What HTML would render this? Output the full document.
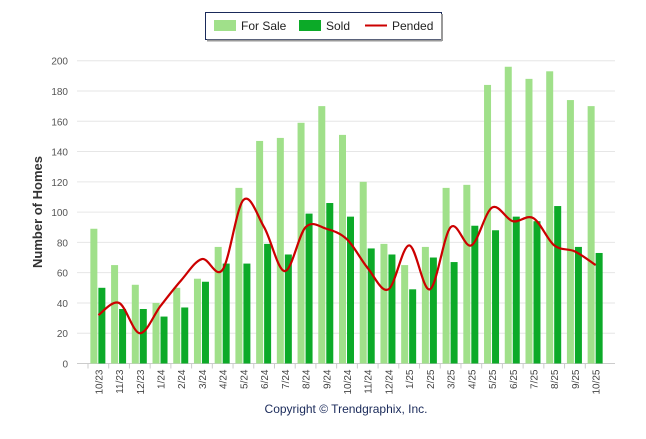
<!DOCTYPE html>
<html><head><meta charset="utf-8"><style>
body{margin:0;background:#fff;font-family:"Liberation Sans",sans-serif}
svg text{font-family:"Liberation Sans",sans-serif}
</style></head><body>
<svg id="c" width="646" height="434">
<g>
<rect x="205.5" y="12.5" width="236" height="27" fill="#fff" stroke="#1a2a5a" stroke-width="1"/>
<line x1="442" y1="14" x2="442" y2="41" stroke="#999" stroke-width="2"/>
<line x1="207" y1="40.5" x2="442" y2="40.5" stroke="#999" stroke-width="2"/>
<g><rect x="214" y="20" width="22" height="11" fill="#a0e08a"/><text x="241" y="30" font-size="12" fill="#222">For Sale</text></g>
<g><rect x="299" y="20" width="22" height="11" fill="#0caa28"/><text x="326" y="30" font-size="12" fill="#222">Sold</text></g>
<g><line x1="365" y1="25.5" x2="387" y2="25.5" stroke="#cc0000" stroke-width="2"/><text x="392" y="30" font-size="12" fill="#222">Pended</text></g>
</g>
<text transform="translate(42,212) rotate(-90)" text-anchor="middle" font-size="13" font-weight="bold" fill="#333">Number of Homes</text>
<text x="346" y="413" text-anchor="middle" font-size="12" fill="#1a2a5a">Copyright © Trendgraphix, Inc.</text>
<g id="grid"></g><g id="bars"></g><g id="line"></g><g id="xl"></g>
</svg>
<script>
const categories=["10/23","11/23","12/23","1/24","2/24","3/24","4/24","5/24","6/24","7/24","8/24","9/24","10/24","11/24","12/24","1/25","2/25","3/25","4/25","5/25","6/25","7/25","8/25","9/25","10/25"];
const forSale=[89,65,52,40,50,56,77,116,147,149,159,170,151,120,79,65,77,116,118,184,196,188,193,174,170];
const sold=[50,36,36,31,37,54,66,66,79,72,99,106,97,76,72,49,70,67,91,88,97,94,104,77,73];
const pended=[32,40,20,38,55,69,62,108,90,61,90,89,82,63,49,78,49,90,78,103,94,96,78,74,65];
const yTicks=[0,20,40,60,80,100,120,140,160,180,200];
const NS="http://www.w3.org/2000/svg";
const x0=88,x1=606,yB=363.5,yT=60.7,yMax=200;
const bw=(x1-x0)/categories.length;
const y=v=>yB-(v/yMax)*(yB-yT);
const cx=i=>x0+bw*(i+0.5);
function mk(t,a,p){const e=document.createElementNS(NS,t);for(const k in a)e.setAttribute(k,a[k]);p.appendChild(e);return e;}
const g=document.getElementById('grid');
yTicks.forEach(t=>{
 const l=mk('line',{x1:77,x2:615,y1:y(t),y2:y(t),stroke:t===0?'#ccc':'#e6e6e6','stroke-width':1},g);
 
 
 const tx=mk('text',{x:68,y:y(t)+4,'text-anchor':'end','font-size':10,fill:'#555'},g);
 tx.textContent=t;
 
 
});
const b=document.getElementById('bars'),xl=document.getElementById('xl');
categories.forEach((c,i)=>{
 const r1=mk('rect',{x:cx(i)-8,y:y(forSale[i]),width:7,height:yB-y(forSale[i]),fill:'#a0e08a'},b);
 
 
 const r2=mk('rect',{x:cx(i),y:y(sold[i]),width:7,height:yB-y(sold[i]),fill:'#0caa28'},b);
 
 
 mk('line',{x1:cx(i)-bw/2,x2:cx(i)-bw/2,y1:yB,y2:yB+5,stroke:'#ccc'},xl);
 const t=mk('text',{transform:`translate(${cx(i)+4},${yB+6}) rotate(-90)`,'text-anchor':'end','font-size':10,fill:'#444'},xl);
 t.textContent=c;
 
 
});
const pts=pended.map((v,i)=>[cx(i),y(v)]);
let d=`M${pts[0][0]},${pts[0][1]}`;
for(let i=0;i<pts.length-1;i++){
 const p0=pts[i-1]||pts[i],p1=pts[i],p2=pts[i+1],p3=pts[i+2]||p2,k=1/6;
 d+=` C${p1[0]+(p2[0]-p0[0])*k},${p1[1]+(p2[1]-p0[1])*k} ${p2[0]-(p3[0]-p1[0])*k},${p2[1]-(p3[1]-p1[1])*k} ${p2[0]},${p2[1]}`;
}
const pl=mk('path',{d:d,fill:'none',stroke:'#cc0000','stroke-width':2.2},document.getElementById('line'));


</script>
</body></html>
